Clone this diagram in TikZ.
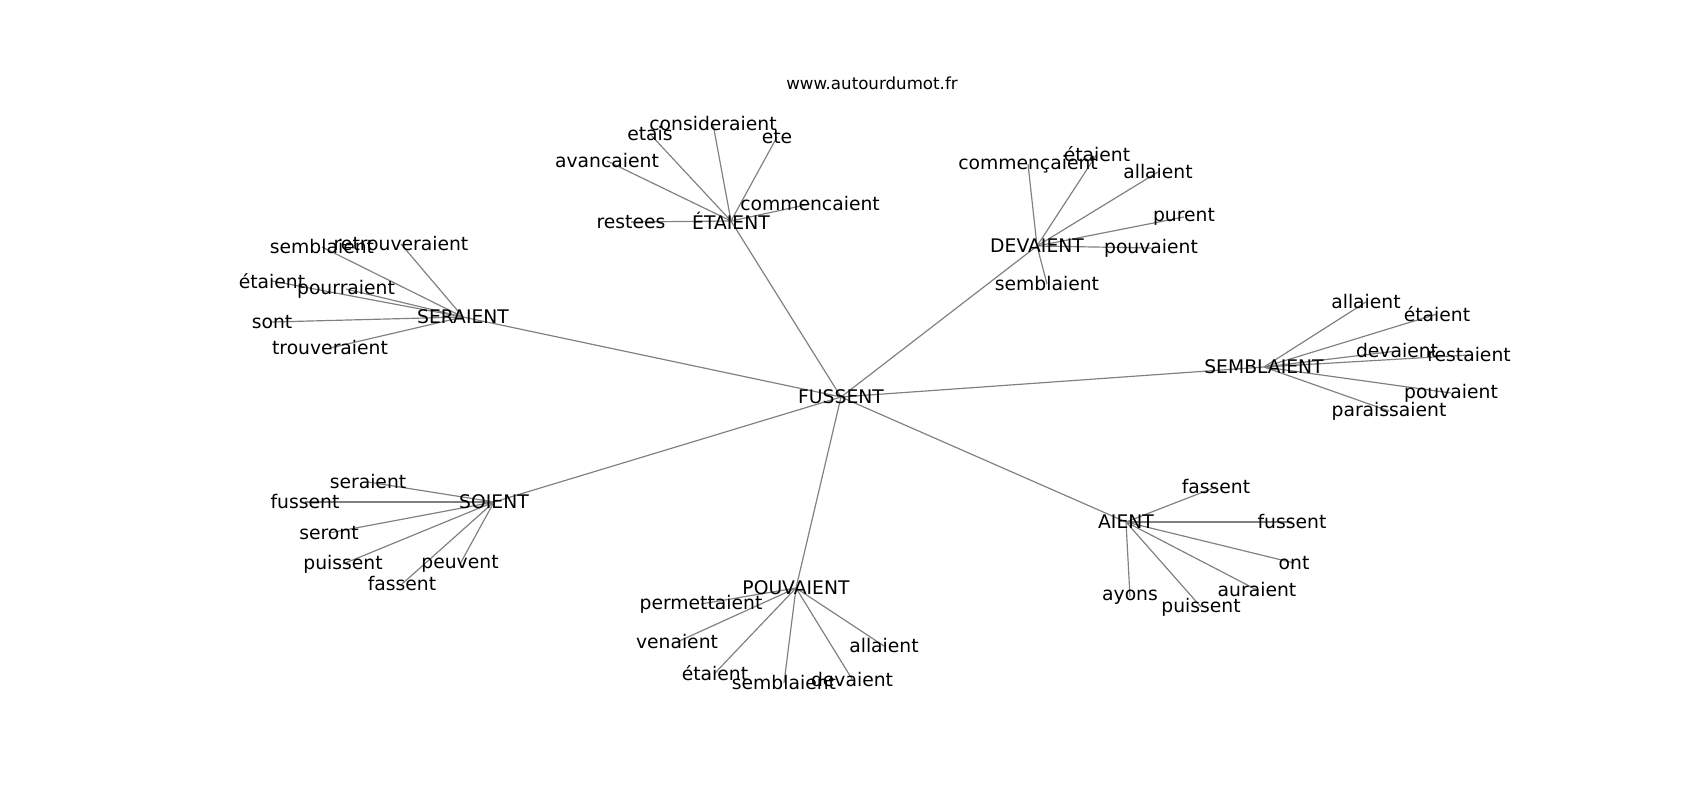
\documentclass[tikz,border=0pt]{standalone}
\usepackage{fontspec}
\setmainfont{DejaVu Sans}
\usepackage{tikz}
\usepackage{xcolor}
\usetikzlibrary{backgrounds}
\tikzset{
    word-label/.style = {inner sep=0pt, font=\fontsize{13.5}{16}\selectfont, text=black},
    title-label/.style = {inner sep=0pt, font=\fontsize{12}{14}\selectfont, text=black},
    edge-line/.style = {draw=black!50, line width=0.85pt},
}

\begin{document}
\begin{tikzpicture}[x=0.72pt, y=-0.72pt]
\useasboundingbox (0,0) rectangle (1700,800);
\node[title-label] (title) at (872,83) {www.autourdumot.fr};

% hubs
\node[word-label] (fussent) at (841,397) {FUSSENT};
\node[word-label] (etaient) at (731,221) {ÉTAIENT};
\node[word-label] (devaient) at (1037,246) {DEVAIENT};
\node[word-label] (seraient) at (463,317) {SERAIENT};
\node[word-label] (semblaient) at (1264,367) {SEMBLAIENT};
\node[word-label] (soient) at (494,502) {SOIENT};
\node[word-label] (pouvaient) at (796,588) {POUVAIENT};
\node[word-label] (aient) at (1126,522) {AIENT};

% around ÉTAIENT
\node[word-label] (etaient-restees) at (631,222) {restees};
\node[word-label] (etaient-avancaient) at (607,161) {avancaient};
\node[word-label] (etaient-etais) at (650,134) {etais};
\node[word-label] (etaient-consideraient) at (713,124) {consideraient};
\node[word-label] (etaient-ete) at (777,137) {ete};
\node[word-label] (etaient-commencaient) at (810,204) {commencaient};

% around DEVAIENT
\node[word-label] (devaient-commencaient) at (1028,164) {commençaient};
\node[word-label] (devaient-etaient) at (1097,154) {étaient};
\node[word-label] (devaient-allaient) at (1158,172) {allaient};
\node[word-label] (devaient-purent) at (1184,217) {purent};
\node[word-label] (devaient-pouvaient) at (1151,248) {pouvaient};
\node[word-label] (devaient-semblaient) at (1047,284) {semblaient};

% around SERAIENT
\node[word-label] (seraient-semblaient) at (322,247) {semblaient};
\node[word-label] (seraient-retrouveraient) at (401,244) {retrouveraient};
\node[word-label] (seraient-etaient) at (272,281) {étaient};
\node[word-label] (seraient-pourraient) at (346,289) {pourraient};
\node[word-label] (seraient-sont) at (272,322) {sont};
\node[word-label] (seraient-trouveraient) at (330,348) {trouveraient};

% around SEMBLAIENT
\node[word-label] (semblaient-allaient) at (1366,302) {allaient};
\node[word-label] (semblaient-etaient) at (1437,314) {étaient};
\node[word-label] (semblaient-devaient) at (1397,351) {devaient};
\node[word-label] (semblaient-restaient) at (1469,355) {restaient};
\node[word-label] (semblaient-pouvaient) at (1451,393) {pouvaient};
\node[word-label] (semblaient-paraissaient) at (1389,411) {paraissaient};

% around SOIENT
\node[word-label] (soient-seraient) at (368,482) {seraient};
\node[word-label] (soient-fussent) at (305,502) {fussent};
\node[word-label] (soient-seront) at (329,533) {seront};
\node[word-label] (soient-puissent) at (343,564) {puissent};
\node[word-label] (soient-peuvent) at (460,564) {peuvent};
\node[word-label] (soient-fassent) at (402,584) {fassent};

% around POUVAIENT
\node[word-label] (pouvaient-permettaient) at (701,604) {permettaient};
\node[word-label] (pouvaient-venaient) at (677,642) {venaient};
\node[word-label] (pouvaient-etaient) at (715,673) {étaient};
\node[word-label] (pouvaient-semblaient) at (784,683) {semblaient};
\node[word-label] (pouvaient-devaient) at (852,679) {devaient};
\node[word-label] (pouvaient-allaient) at (884,646) {allaient};

% around AIENT
\node[word-label] (aient-fassent) at (1216,487) {fassent};
\node[word-label] (aient-fussent) at (1292,522) {fussent};
\node[word-label] (aient-ont) at (1294,563) {ont};
\node[word-label] (aient-auraient) at (1257,590) {auraient};
\node[word-label] (aient-ayons) at (1130,597) {ayons};
\node[word-label] (aient-puissent) at (1201,607) {puissent};

\begin{scope}[on background layer]
\draw[edge-line] (fussent.center) -- (etaient.center);
\draw[edge-line] (fussent.center) -- (devaient.center);
\draw[edge-line] (fussent.center) -- (seraient.center);
\draw[edge-line] (fussent.center) -- (semblaient.center);
\draw[edge-line] (fussent.center) -- (soient.center);
\draw[edge-line] (fussent.center) -- (pouvaient.center);
\draw[edge-line] (fussent.center) -- (aient.center);

\draw[edge-line] (etaient.center) -- (etaient-restees.center);
\draw[edge-line] (etaient.center) -- (etaient-avancaient.center);
\draw[edge-line] (etaient.center) -- (etaient-etais.center);
\draw[edge-line] (etaient.center) -- (etaient-consideraient.center);
\draw[edge-line] (etaient.center) -- (etaient-ete.center);
\draw[edge-line] (etaient.center) -- (etaient-commencaient.center);

\draw[edge-line] (devaient.center) -- (devaient-commencaient.center);
\draw[edge-line] (devaient.center) -- (devaient-etaient.center);
\draw[edge-line] (devaient.center) -- (devaient-allaient.center);
\draw[edge-line] (devaient.center) -- (devaient-purent.center);
\draw[edge-line] (devaient.center) -- (devaient-pouvaient.center);
\draw[edge-line] (devaient.center) -- (devaient-semblaient.center);

\draw[edge-line] (seraient.center) -- (seraient-semblaient.center);
\draw[edge-line] (seraient.center) -- (seraient-retrouveraient.center);
\draw[edge-line] (seraient.center) -- (seraient-etaient.center);
\draw[edge-line] (seraient.center) -- (seraient-pourraient.center);
\draw[edge-line] (seraient.center) -- (seraient-sont.center);
\draw[edge-line] (seraient.center) -- (seraient-trouveraient.center);

\draw[edge-line] (semblaient.center) -- (semblaient-allaient.center);
\draw[edge-line] (semblaient.center) -- (semblaient-etaient.center);
\draw[edge-line] (semblaient.center) -- (semblaient-devaient.center);
\draw[edge-line] (semblaient.center) -- (semblaient-restaient.center);
\draw[edge-line] (semblaient.center) -- (semblaient-pouvaient.center);
\draw[edge-line] (semblaient.center) -- (semblaient-paraissaient.center);

\draw[edge-line] (soient.center) -- (soient-seraient.center);
\draw[edge-line] (soient.center) -- (soient-fussent.center);
\draw[edge-line] (soient.center) -- (soient-seront.center);
\draw[edge-line] (soient.center) -- (soient-puissent.center);
\draw[edge-line] (soient.center) -- (soient-peuvent.center);
\draw[edge-line] (soient.center) -- (soient-fassent.center);

\draw[edge-line] (pouvaient.center) -- (pouvaient-permettaient.center);
\draw[edge-line] (pouvaient.center) -- (pouvaient-venaient.center);
\draw[edge-line] (pouvaient.center) -- (pouvaient-etaient.center);
\draw[edge-line] (pouvaient.center) -- (pouvaient-semblaient.center);
\draw[edge-line] (pouvaient.center) -- (pouvaient-devaient.center);
\draw[edge-line] (pouvaient.center) -- (pouvaient-allaient.center);

\draw[edge-line] (aient.center) -- (aient-fassent.center);
\draw[edge-line] (aient.center) -- (aient-fussent.center);
\draw[edge-line] (aient.center) -- (aient-ont.center);
\draw[edge-line] (aient.center) -- (aient-auraient.center);
\draw[edge-line] (aient.center) -- (aient-ayons.center);
\draw[edge-line] (aient.center) -- (aient-puissent.center);
\end{scope}
\end{tikzpicture}
\end{document}
